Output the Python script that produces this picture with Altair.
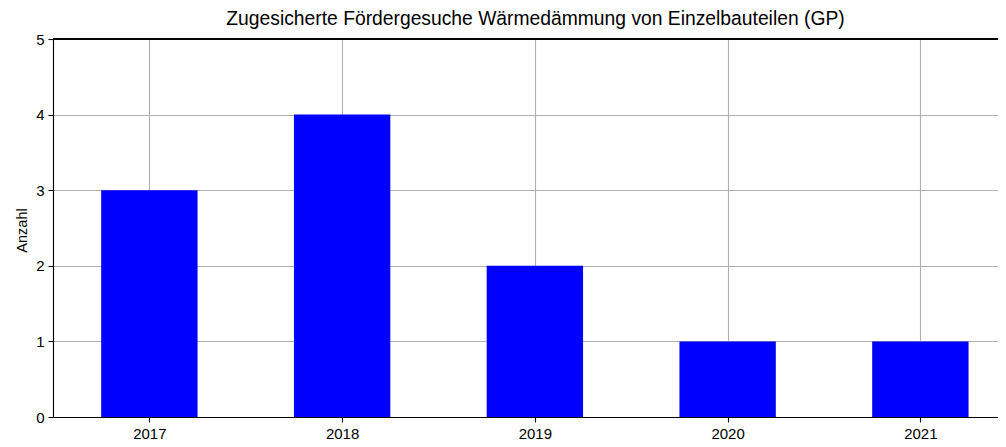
import altair as alt
import pandas as pd

years = [2017, 2018, 2019, 2020, 2021]
counts = [3, 4, 2, 1, 1]

df = pd.DataFrame({"Jahr": years, "Anzahl": counts})

FONT = "Liberation Sans"
W, H = 945, 378

x_scale = alt.Scale(domain=[2016.5, 2016.5 + W / 192.75], nice=False, zero=False)
y_scale = alt.Scale(domain=[0, 5], nice=False)

bars = alt.Chart(df).transform_calculate(
    x0="datum.Jahr - 0.25", x1="datum.Jahr + 0.25"
).mark_bar(color="#0000ff", clip=True).encode(
    x=alt.X("x0:Q", scale=x_scale,
            axis=alt.Axis(values=years, format="d", title=None, grid=True,
                          gridColor="#b0b0b0", gridWidth=1.1,
                          domainColor="black", domainWidth=1.1,
                          tickColor="black", tickSize=5, tickWidth=1.1,
                          labelFontSize=15, labelColor="black", labelFont=FONT,
                          labelPadding=4)),
    x2="x1:Q",
    y=alt.Y("Anzahl:Q", scale=y_scale,
            axis=alt.Axis(values=[0, 1, 2, 3, 4, 5], format="d", title="Anzahl", grid=True,
                          gridColor="#b0b0b0", gridWidth=1.1,
                          domainColor="black", domainWidth=1.1,
                          tickColor="black", tickSize=5, tickWidth=1.1,
                          labelFontSize=15, labelColor="black", labelFont=FONT,
                          labelPadding=4,
                          titleFontSize=14.5, titleFont=FONT, titleColor="black",
                          titleFontWeight="normal", titleX=-27, titleY=191,
                          titleAngle=270, titleAlign="center",
                          titleBaseline="alphabetic")),
    y2=alt.datum(0),
)

top = alt.Chart(df).mark_rule(color="black", strokeWidth=1.1).encode(y=alt.datum(5))

chart = alt.layer(bars, top).properties(
    width=W, height=H,
    title=alt.TitleParams("Zugesicherte Fördergesuche Wärmedämmung von Einzelbauteilen (GP)",
                          font=FONT, fontSize=19.3, fontWeight="normal", color="black",
                          offset=3, dx=10),
    autosize=alt.AutoSizeParams(type="none"),
    padding={"left": 45, "top": 31, "right": 0, "bottom": 24},
).configure_view(stroke=None)

chart.save("out.html", embed_options={"renderer": "svg", "actions": False})
